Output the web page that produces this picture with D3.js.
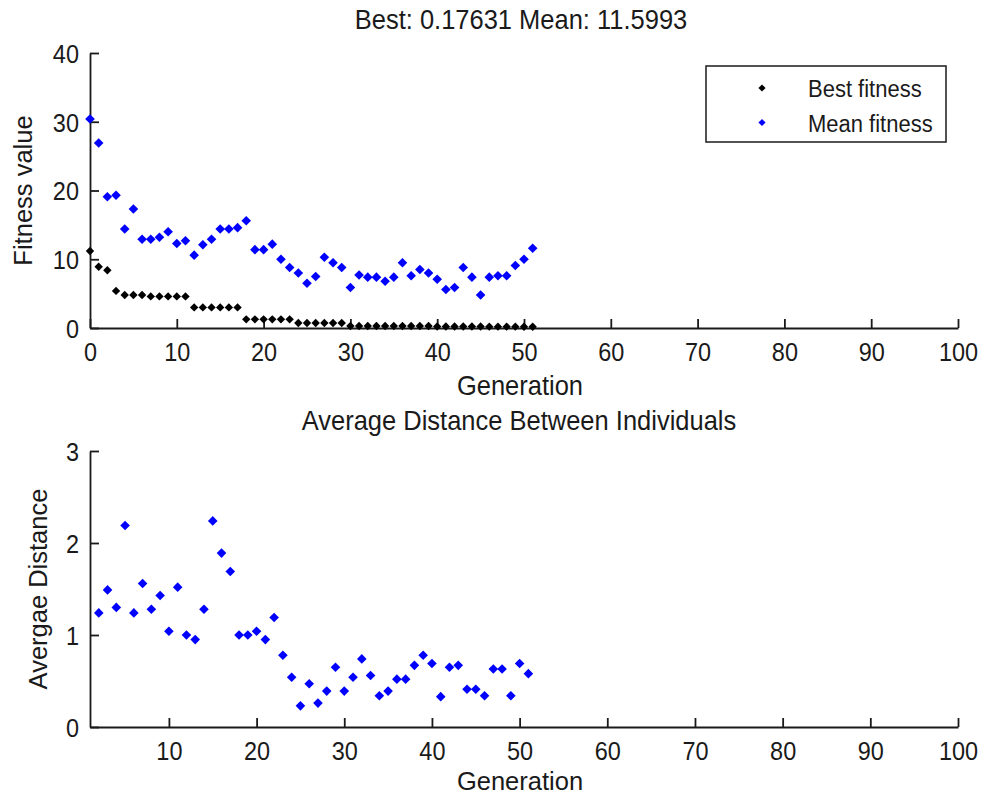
<!DOCTYPE html>
<html>
<head>
<meta charset="utf-8">
<script src="https://cdn.jsdelivr.net/npm/d3@7"></script>
<style>
  html, body { margin: 0; padding: 0; background: #fff; }
  svg { display: block; }
  text { font-family: "Liberation Sans", Arial, Helvetica, sans-serif; fill: #1a1a1a; }
  text.tall { transform-box: fill-box; transform-origin: center; transform: scaleY(1.12); }
</style>
</head>
<body>
<svg id="chart" width="992" height="797"></svg>
<script>
// ---------- data ----------
const topTitle = "Best: 0.17631 Mean: 11.5993";
const bottomTitle = "Average Distance Between Individuals";
const xLabel = "Generation";
const topYLabel = "Fitness value";
const bottomYLabel = "Avergae Distance";
const legendLabels = ["Best fitness", "Mean fitness"];

const topGenerationStart = 0;
const bestFitness = [11.2, 8.9, 8.4, 5.4, 4.8, 4.8, 4.8, 4.6, 4.6, 4.6,
  4.6, 4.6, 3.0, 3.0, 3.0, 3.0, 3.0, 3.0, 1.26, 1.26,
  1.26, 1.26, 1.26, 1.26, 0.72, 0.72, 0.72, 0.72, 0.72, 0.72,
  0.3, 0.3, 0.3, 0.3, 0.3, 0.3, 0.3, 0.3, 0.3, 0.3,
  0.22, 0.22, 0.22, 0.22, 0.22, 0.22, 0.2, 0.2, 0.2, 0.2, 0.18, 0.17631];
const meanFitness = [30.4, 26.9, 19.1, 19.3, 14.4, 17.3, 12.9, 12.9, 13.2, 14.0,
  12.3, 12.7, 10.6, 12.1, 12.9, 14.4, 14.4, 14.6, 15.6, 11.4,
  11.4, 12.2, 10.0, 8.8, 8.0, 6.5, 7.5, 10.3, 9.5, 8.8,
  5.9, 7.7, 7.4, 7.4, 6.8, 7.4, 9.5, 7.6, 8.5, 8.0,
  7.1, 5.6, 5.9, 8.8, 7.4, 4.8, 7.4, 7.6, 7.6, 9.1, 10.0, 11.5993];

const bottomGenerationStart = 2;
const avgDistance = [1.24, 1.49, 1.30, 2.19, 1.24, 1.56, 1.28, 1.43, 1.04, 1.52,
  1.00, 0.95, 1.28, 2.24, 1.89, 1.69, 1.00, 1.00, 1.04, 0.95,
  1.19, 0.78, 0.54, 0.23, 0.47, 0.26, 0.39, 0.65, 0.39, 0.54,
  0.74, 0.56, 0.34, 0.39, 0.52, 0.52, 0.67, 0.78, 0.69, 0.33,
  0.65, 0.67, 0.41, 0.41, 0.34, 0.63, 0.63, 0.34, 0.69, 0.58];

const topXTicks = [0, 10, 20, 30, 40, 50, 60, 70, 80, 90, 100];
const topYTicks = [0, 10, 20, 30, 40];
const bottomXTicks = [10, 20, 30, 40, 50, 60, 70, 80, 90, 100];
const bottomYTicks = [0, 1, 2, 3];

// ---------- layout ----------
const svg = d3.select("#chart");
const left = 90, right = 958;
const topPlot = { y0: 53, y1: 328 };
const botPlot = { y0: 451, y1: 727 };
const axisColor = "#1a1a1a";
const blue = "#0000ff";

const xTop = d3.scaleLinear().domain([0, 100]).range([left, right]);
const yTop = d3.scaleLinear().domain([0, 40]).range([topPlot.y1, topPlot.y0]);
const xBot = d3.scaleLinear().domain([1, 100]).range([left, right]);
const yBot = d3.scaleLinear().domain([0, 3]).range([botPlot.y1, botPlot.y0]);

function diamond(r) {
  return `M0,${-r}L${r},0L0,${r}L${-r},0Z`;
}

function drawAxes(x, y, xTicks, yTicks, yPix) {
  const gx = svg.append("g")
    .attr("transform", `translate(0,${yPix})`)
    .call(d3.axisBottom(x).tickValues(xTicks).tickSizeInner(-9).tickSizeOuter(0)
      .tickPadding(15).tickFormat(d3.format("d")));
  const gy = svg.append("g")
    .attr("transform", `translate(${left},0)`)
    .call(d3.axisLeft(y).tickValues(yTicks).tickSizeInner(-9).tickSizeOuter(0)
      .tickPadding(11).tickFormat(d3.format("d")));
  [gx, gy].forEach(g => {
    g.select(".domain").attr("stroke", axisColor).attr("stroke-width", 1.8);
    g.selectAll(".tick line").attr("stroke", axisColor).attr("stroke-width", 1.8);
    g.selectAll(".tick text").attr("fill", "#1a1a1a").attr("class", "tall")
      .style("font-size", "23.5px")
      .style("font-family", '"Liberation Sans", Arial, sans-serif');
  });
  gy.selectAll(".tick text").attr("dy", "0.36em");
}

// ---------- top plot ----------
drawAxes(xTop, yTop, topXTicks, topYTicks, topPlot.y1);

svg.append("g").selectAll("path.best")
  .data(bestFitness).join("path")
  .attr("class", "best")
  .attr("d", diamond(4.2))
  .attr("fill", "#000")
  .attr("transform", (d, i) => `translate(${xTop(topGenerationStart + i)},${yTop(d)})`);

svg.append("g").selectAll("path.mean")
  .data(meanFitness).join("path")
  .attr("class", "mean")
  .attr("d", diamond(4.8))
  .attr("fill", blue)
  .attr("transform", (d, i) => `translate(${xTop(topGenerationStart + i)},${yTop(d)})`);

svg.append("text").attr("class", "tall").attr("x", (left + right) / 2 - 3).attr("y", 28)
  .attr("text-anchor", "middle").style("font-size", "25.5px").text(topTitle);
svg.append("text").attr("class", "tall").attr("x", (left + right) / 2 - 4).attr("y", 394)
  .attr("text-anchor", "middle").style("font-size", "25.5px").text(xLabel);
svg.append("text").attr("transform", `translate(32,${(topPlot.y0 + topPlot.y1) / 2}) rotate(-90)`)
  .attr("text-anchor", "middle").style("font-size", "25.5px").text(topYLabel);

// legend
const lg = svg.append("g");
lg.append("rect").attr("x", 706).attr("y", 66).attr("width", 240).attr("height", 76)
  .attr("fill", "#fff").attr("stroke", axisColor).attr("stroke-width", 1.5);
const legendColors = ["#000", blue];
legendLabels.forEach((lab, i) => {
  const cy = 88 + i * 34.5;
  lg.append("path").attr("d", diamond(3.6)).attr("fill", legendColors[i])
    .attr("transform", `translate(762,${cy})`);
  lg.append("text").attr("class", "tall").attr("x", 808).attr("y", cy + 8.5)
    .style("font-size", "22px").text(lab);
});

// ---------- bottom plot ----------
drawAxes(xBot, yBot, bottomXTicks, bottomYTicks, botPlot.y1);

svg.append("g").selectAll("path.dist")
  .data(avgDistance).join("path")
  .attr("class", "dist")
  .attr("d", diamond(4.8))
  .attr("fill", blue)
  .attr("transform", (d, i) => `translate(${xBot(bottomGenerationStart + i)},${yBot(d)})`);

svg.append("text").attr("class", "tall").attr("x", (left + right) / 2 - 5).attr("y", 429)
  .attr("text-anchor", "middle").style("font-size", "25.5px").text(bottomTitle);
svg.append("text").attr("x", (left + right) / 2 - 4).attr("y", 790)
  .attr("text-anchor", "middle").style("font-size", "25.5px").text(xLabel);
svg.append("text").attr("transform", `translate(47,${(botPlot.y0 + botPlot.y1) / 2}) rotate(-90)`)
  .attr("text-anchor", "middle").style("font-size", "25.5px").text(bottomYLabel);
</script>
</body>
</html>
